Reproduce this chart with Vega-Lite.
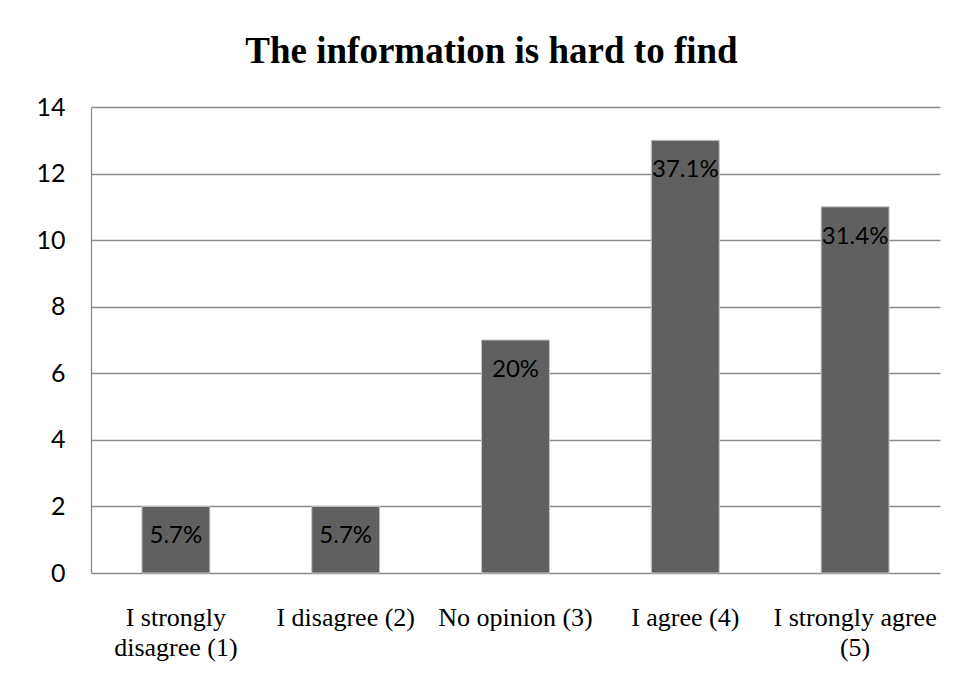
{
  "$schema": "https://vega.github.io/schema/vega-lite/v6.json",
  "width": 849,
  "height": 466,
  "autosize": {"type": "none"},
  "padding": {"left": 91, "top": 107, "right": 20, "bottom": 108},
  "background": "white",
  "title": {
    "text": "The information is hard to find",
    "font": "Liberation Serif",
    "fontSize": 37,
    "fontWeight": "bold",
    "color": "black",
    "anchor": "middle",
    "frame": "group",
    "dx": -24,
    "offset": 24
  },
  "data": {
    "values": [
      {"answer": "I strongly disagree (1)", "count": 2, "share": "5.7%"},
      {"answer": "I disagree (2)", "count": 2, "share": "5.7%"},
      {"answer": "No opinion (3)", "count": 7, "share": "20%"},
      {"answer": "I agree (4)", "count": 13, "share": "37.1%"},
      {"answer": "I strongly agree (5)", "count": 11, "share": "31.4%"}
    ]
  },
  "encoding": {
    "x": {
      "field": "answer",
      "type": "nominal",
      "sort": null,
      "title": null,
      "scale": {"paddingInner": 0.6, "paddingOuter": 0.3},
      "axis": {
        "labelAngle": 0,
        "labelFont": "Liberation Serif",
        "labelFontSize": 26,
        "labelColor": "black",
        "labelLineHeight": 30,
        "labelPadding": 31,
        "labelLimit": 0,
        "ticks": false,
        "domain": false,
        "labelExpr": "datum.value == 'I strongly disagree (1)' ? ['I strongly', 'disagree (1)'] : datum.value == 'I strongly agree (5)' ? ['I strongly agree', '(5)'] : datum.label"
      }
    },
    "y": {
      "field": "count",
      "type": "quantitative",
      "title": null,
      "scale": {"domain": [0, 14], "nice": false},
      "axis": {
        "values": [0, 2, 4, 6, 8, 10, 12, 14],
        "labelFont": "Lato",
        "labelFontSize": 25,
        "labelColor": "black",
        "labelPadding": 26,
        "ticks": false,
        "domain": true,
        "domainColor": "#8c8c8c",
        "domainWidth": 1.3,
        "grid": true,
        "gridColor": "#8c8c8c",
        "gridWidth": 1.3,
        "gridOpacity": 1
      }
    }
  },
  "layer": [
    {
      "mark": {"type": "bar", "color": "#606060", "stroke": "#c4c4c4", "strokeWidth": 1}
    },
    {
      "mark": {
        "type": "text",
        "font": "Lato",
        "fontSize": 24,
        "color": "black",
        "baseline": "middle",
        "align": "center",
        "dy": 30
      },
      "encoding": {"text": {"field": "share"}}
    }
  ],
  "config": {
    "view": {"stroke": null}
  }
}
